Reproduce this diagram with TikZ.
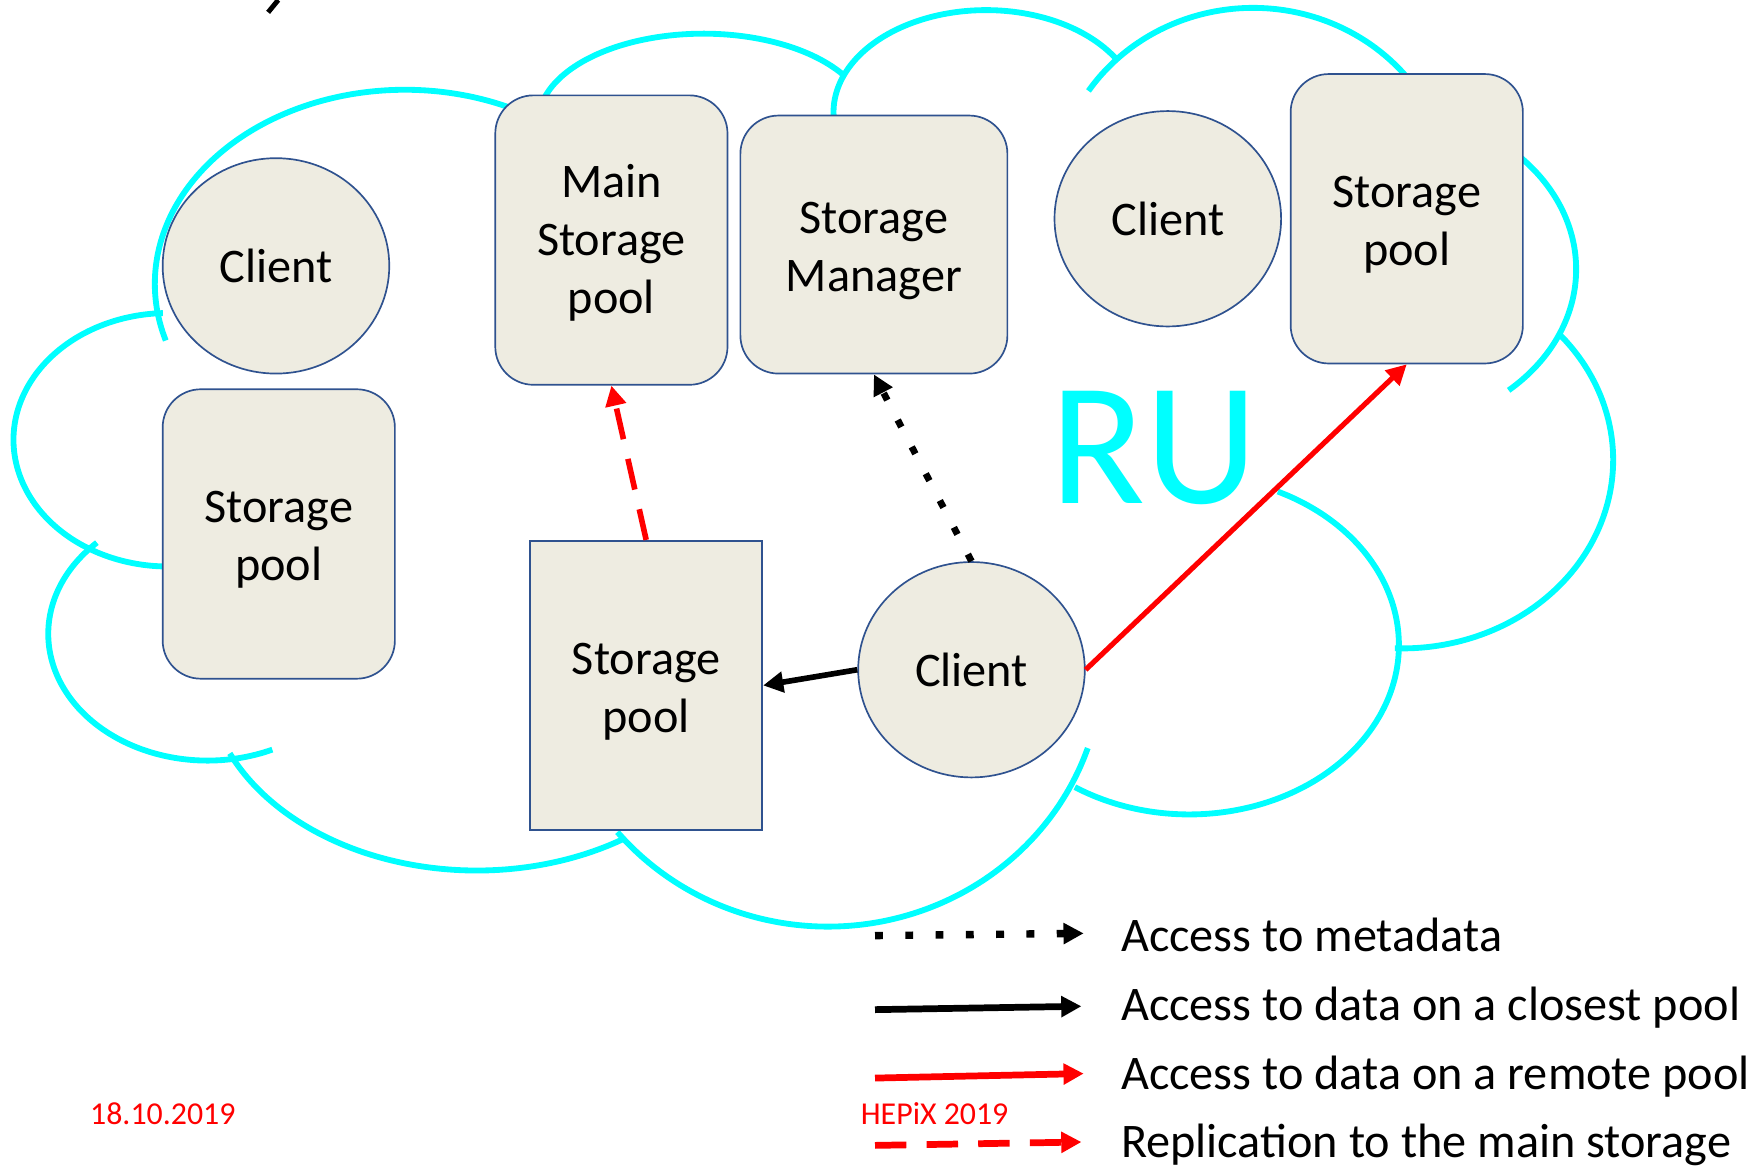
\documentclass[tikz,border=0pt]{standalone}
\usepackage{fontspec}
\setmainfont{Carlito}
\usetikzlibrary{shapes.geometric,arrows.meta}
\definecolor{cloudc}{HTML}{00FFFF}
\definecolor{nodeb}{HTML}{2F528F}
\definecolor{nodef}{HTML}{EEECE1}
\definecolor{redc}{HTML}{FF0000}
\newcommand\mynodefont{\fontsize{21.5}{25.8}\selectfont}
\newcommand\lowtext[2]{\raisebox{-#1}[\height][\depth]{\begin{tabular}{@{}c@{}}#2\end{tabular}}}
\begin{document}
\begin{tikzpicture}[x=0.5pt,y=-0.5pt,
  cloudarc/.style={draw=cloudc,line width=2.6pt},
  clientnode/.style={ellipse,draw=nodeb,fill=nodef,line width=0.75pt,minimum width=101pt,minimum height=96pt,inner sep=0pt,font=\mynodefont},
  poolnode/.style={rectangle,rounded corners=17pt,draw=nodeb,fill=nodef,line width=0.75pt,minimum width=103.5pt,minimum height=129pt,inner sep=0pt,font=\mynodefont},
  sharppool/.style={poolnode,sharp corners},
  arrblack/.style={draw=black,line width=2.5pt,-{Triangle[width=9pt,length=9pt]}},
  arrred/.style={draw=redc,line width=2.3pt,-{Triangle[width=9pt,length=9pt]}},
  arrdash/.style={draw=redc,line width=2.5pt,dash pattern=on 14pt off 9pt,-{Triangle[width=9pt,length=9pt]}},
  arrdot/.style={draw=black,line width=3pt,dash pattern=on 3.5pt off 10pt,-{Triangle[width=9pt,length=9pt]}},
  legline/.style={line width=3pt},
  legtext/.style={anchor=base west,inner sep=0pt,font=\mynodefont},
  datetext/.style={anchor=base west,inner sep=0pt,text=redc,font=\fontsize{14.2}{17}\selectfont}
]
\useasboundingbox (0,0) rectangle (1568,1039);

% cloud outline
\draw[cloudarc] plot[smooth,domain=64:197,samples=50] ({361+223*cos(\x)},{253-173*sin(\x)});
\draw[cloudarc] plot[smooth,domain=92:268,samples=50] ({150+138*cos(\x)},{392-113*sin(\x)});
\draw[cloudarc] plot[smooth,domain=134:294,samples=50] ({185+142*cos(\x)},{565-113*sin(\x)});
\draw[cloudarc] plot[smooth,domain=204:303,samples=50] ({425+241*cos(\x)},{600-176*sin(\x)});
\draw[cloudarc] plot[smooth,domain=220:341,samples=50] ({738+245*cos(\x)},{590-236*sin(\x)});
\draw[cloudarc] plot[smooth,domain=237:425,samples=60] ({1060+187*cos(\x)},{575-151*sin(\x)});
\draw[cloudarc] plot[smooth,domain=268:402,samples=50] ({1250+188*cos(\x)},{410-168*sin(\x)});
\draw[cloudarc] plot[smooth,domain=-49:55,samples=50] ({1230+175*cos(\x)},{240-143*sin(\x)});
\draw[cloudarc] plot[smooth,domain=40:146,samples=50] ({1117+177*cos(\x)},{175-168*sin(\x)});
\draw[cloudarc] plot[smooth,domain=30:183,samples=50] ({879+136*cos(\x)},{100-91*sin(\x)});
\draw[cloudarc] plot[smooth,domain=31:168,samples=50] ({627+147*cos(\x)},{108-78*sin(\x)});

% title fragment at top edge
\draw[line width=2.2pt,line cap=butt] (248,0) -- (239,11);

% nodes
\node[clientnode] (cA) at (246,237) {Client};
\node[poolnode] (spL) at (248.5,476) {\lowtext{2.6pt}{Storage\\pool}};
\node[poolnode] (msp) at (545,214) {\lowtext{1.8pt}{Main\\Storage\\pool}};
\node[poolnode,minimum width=119pt,minimum height=115pt] (sm) at (779,218) {\lowtext{2.8pt}{Storage\\Manager}};
\node[clientnode] (cB) at (1041,195) {Client};
\node[poolnode] (spR) at (1254,195) {\lowtext{2.6pt}{Storage\\pool}};
\node[sharppool] (spC) at (576,611) {\lowtext{2.8pt}{Storage\\pool}};
\node[clientnode] (cC) at (866,597) {Client};

\node[text=cloudc,inner sep=0pt,font=\fontsize{78}{80}\selectfont] (ru) at (1029,399) {RU};

% connectors
\draw[arrdash] (spC.north) -- (msp.south);
\draw[arrdot] (cC.north) -- (sm.south);
\draw[arrblack] (cC.west) -- (spC.east);
\draw[arrred] (cC.east) -- (spR.south);

% legend
\coordinate (l1s) at (780,834); \coordinate (l1e) at (966,832);
\coordinate (l2s) at (780,900); \coordinate (l2e) at (964,897);
\coordinate (l3s) at (780,961); \coordinate (l3e) at (966,957);
\coordinate (l4s) at (780,1021); \coordinate (l4e) at (964,1018);
\draw[arrdot,line width=3.3pt] (l1s) -- (l1e);
\draw[arrblack,legline] (l2s) -- (l2e);
\draw[arrred,legline] (l3s) -- (l3e);
\draw[arrdash,legline] (l4s) -- (l4e);
\node[legtext] (t1) at (999,848) {Access to metadata};
\node[legtext] (t2) at (999,910) {Access to data on a closest pool};
\node[legtext] (t3) at (999,971) {Access to data on a remote pool};
\node[legtext] (t4) at (999,1032) {Replication to the main storage};

\node[datetext] (date) at (80,1002) {18.10.2019};
\node[datetext] (conf) at (767,1002) {HEPiX 2019};
\end{tikzpicture}
\end{document}
